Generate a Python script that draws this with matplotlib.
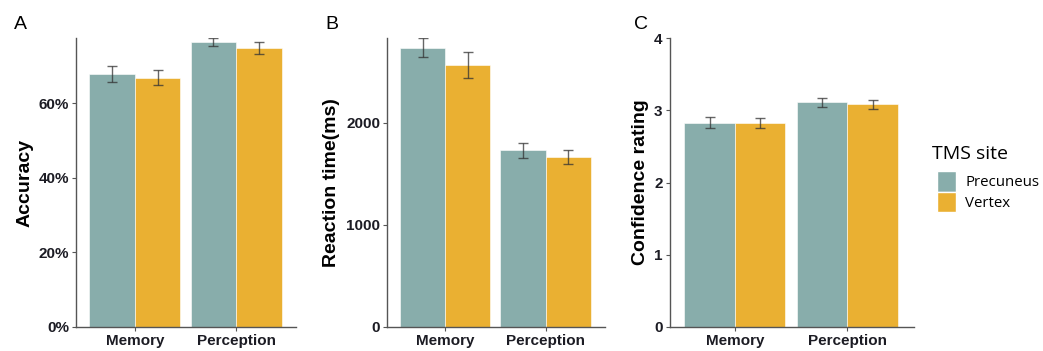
import matplotlib
matplotlib.use('Agg')
import matplotlib.pyplot as plt
import matplotlib.ticker as mticker
from matplotlib.patches import Patch
import numpy as np

plt.rcParams['font.family'] = ['Liberation Sans', 'DejaVu Sans']

conditions = ['Memory', 'Perception']
sites = ['Precuneus', 'Vertex']
colors = ['#88ADAB', '#EAB032']

# accuracy (proportion), reaction time (ms), confidence rating
acc_mean = {'Precuneus': [0.679, 0.765], 'Vertex': [0.669, 0.748]}
acc_err = {'Precuneus': [0.022, 0.010], 'Vertex': [0.021, 0.016]}
rt_mean = {'Precuneus': [2732, 1727], 'Vertex': [2563, 1662]}
rt_err = {'Precuneus': [94, 70], 'Vertex': [127, 70]}
conf_mean = {'Precuneus': [2.83, 3.11], 'Vertex': [2.83, 3.085]}
conf_err = {'Precuneus': [0.08, 0.06], 'Vertex': [0.07, 0.065]}

panels = [
    ('A', acc_mean, acc_err, 'Accuracy', (0, 0.775), [0, 0.2, 0.4, 0.6],
     [0.0729, 0.0684, 0.211, 0.823], 0.0134),
    ('B', rt_mean, rt_err, 'Reaction time(ms)', (0, 2826), [0, 1000, 2000],
     [0.371, 0.0684, 0.209, 0.823], 0.3116),
    ('C', conf_mean, conf_err, 'Confidence rating', (0, 4.0), [0, 1, 2, 3, 4],
     [0.642, 0.0684, 0.234, 0.823], 0.608),
]

fig = plt.figure(figsize=(10.43, 3.51), dpi=100)
width = 0.45
x = np.arange(1, len(conditions) + 1)

for letter, means, errs, ylabel, ylim, yticks, pos, lx in panels:
    ax = fig.add_axes(pos)
    for i, site in enumerate(sites):
        xs = x + (i - 0.5) * width
        ax.bar(xs, means[site], width, color=colors[i], edgecolor='white',
               linewidth=0.4, zorder=2)
        ax.errorbar(xs, means[site], yerr=errs[site], fmt='none',
                    ecolor='#333333', alpha=0.75, elinewidth=1.0,
                    capsize=3.6, capthick=1.0, zorder=3)
    ax.set_xlim(0.42, 2.59)
    ax.set_ylim(*ylim)
    ax.set_yticks(yticks)
    if letter == 'A':
        ax.yaxis.set_major_formatter(mticker.PercentFormatter(1.0, decimals=0))
    ax.set_xticks(x)
    ax.set_xticklabels(conditions, fontsize=11, fontweight='bold',
                       color='#1c1c24')
    for lab in ax.get_yticklabels():
        lab.set_fontsize(11)
        lab.set_fontweight('bold')
        lab.set_color('#1c1c24')
    ax.set_ylabel(ylabel, fontsize=14, fontweight='bold', labelpad=4)
    for s in ['top', 'right']:
        ax.spines[s].set_visible(False)
    for s in ['left', 'bottom']:
        ax.spines[s].set_color('#555555')
        ax.spines[s].set_linewidth(1.0)
    ax.tick_params(axis='both', length=3, width=0.8, color='#555555', pad=2)
    fig.text(lx, 0.905, letter, fontsize=14, ha='left', va='bottom')

# legend title drawn on its own so the gap to the keys matches
fig.text(0.8936, 0.547, 'TMS site', family='Open Sans', fontsize=14,
         ha='left', va='baseline')
handles = [Patch(facecolor=c, edgecolor='white', label=s) for c, s in zip(colors, sites)]
fig.legend(handles=handles, loc='upper left',
           bbox_to_anchor=(0.898, 0.513), frameon=False,
           prop={'family': 'Open Sans', 'size': 10.8},
           handlelength=1.3, handleheight=1.75, handletextpad=0.6,
           labelspacing=0.0, borderaxespad=0, borderpad=0)

fig.savefig('out.png', dpi=100)
